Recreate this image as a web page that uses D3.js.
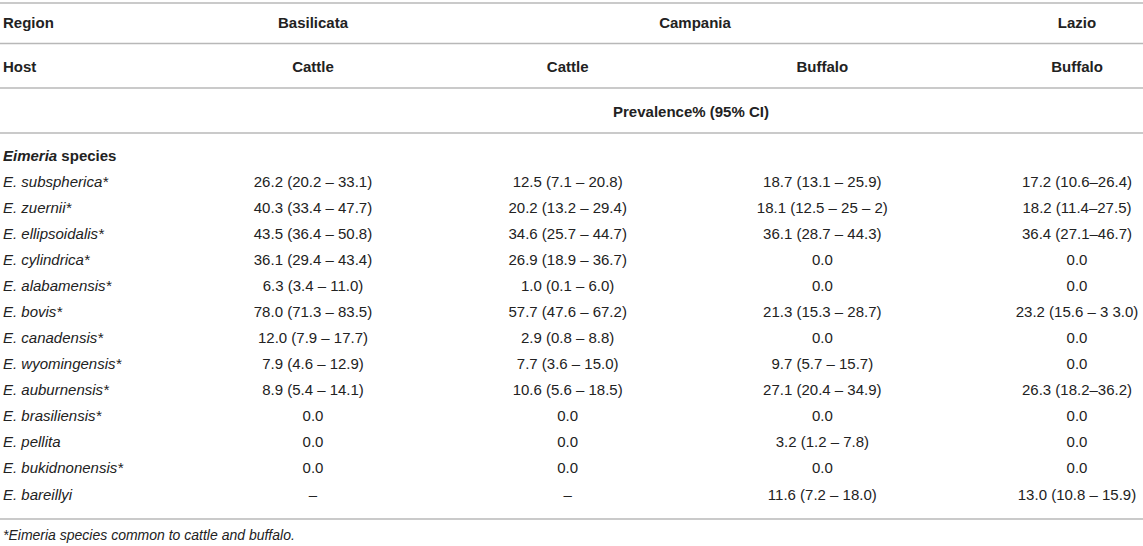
<!DOCTYPE html>
<html>
<head>
<meta charset="utf-8">
<script src="https://cdn.jsdelivr.net/npm/d3@7"></script>
<style>
  body { margin: 0; background: #fff; }
  svg text { font-family: "Liberation Sans", Arial, Helvetica, sans-serif; fill: #222; }
</style>
</head>
<body>
<div id="table"></div>
<script>
// Table contents
const regions = ['Basilicata', 'Campania', 'Lazio'];
const regionSpans = [[0, 0], [1, 2], [3, 3]];   // which data columns each region covers
const hosts = ['Cattle', 'Cattle', 'Buffalo', 'Buffalo'];
const species = [
  'E. subspherica*',
  'E. zuernii*',
  'E. ellipsoidalis*',
  'E. cylindrica*',
  'E. alabamensis*',
  'E. bovis*',
  'E. canadensis*',
  'E. wyomingensis*',
  'E. auburnensis*',
  'E. brasiliensis*',
  'E. pellita',
  'E. bukidnonensis*',
  'E. bareillyi'
];

// Prevalence% (95% CI) per column
const basilicataCattle = [
  '26.2 (20.2 – 33.1)', '40.3 (33.4 – 47.7)', '43.5 (36.4 – 50.8)', '36.1 (29.4 – 43.4)',
  '6.3 (3.4 – 11.0)', '78.0 (71.3 – 83.5)', '12.0 (7.9 – 17.7)', '7.9 (4.6 – 12.9)',
  '8.9 (5.4 – 14.1)', '0.0', '0.0', '0.0', '–'
];
const campaniaCattle = [
  '12.5 (7.1 – 20.8)', '20.2 (13.2 – 29.4)', '34.6 (25.7 – 44.7)', '26.9 (18.9 – 36.7)',
  '1.0 (0.1 – 6.0)', '57.7 (47.6 – 67.2)', '2.9 (0.8 – 8.8)', '7.7 (3.6 – 15.0)',
  '10.6 (5.6 – 18.5)', '0.0', '0.0', '0.0', '–'
];
const campaniaBuffalo = [
  '18.7 (13.1 – 25.9)', '18.1 (12.5 – 25 – 2)', '36.1 (28.7 – 44.3)', '0.0',
  '0.0', '21.3 (15.3 – 28.7)', '0.0', '9.7 (5.7 – 15.7)',
  '27.1 (20.4 – 34.9)', '0.0', '3.2 (1.2 – 7.8)', '0.0', '11.6 (7.2 – 18.0)'
];
const lazioBuffalo = [
  '17.2 (10.6–26.4)', '18.2 (11.4–27.5)', '36.4 (27.1–46.7)', '0.0',
  '0.0', '23.2 (15.6 – 3 3.0)', '0.0', '0.0',
  '26.3 (18.2–36.2)', '0.0', '0.0', '0.0', '13.0 (10.8 – 15.9)'
];
const columns = [basilicataCattle, campaniaCattle, campaniaBuffalo, lazioBuffalo];

const footnote = '*Eimeria species common to cattle and buffalo.';

// Drawing
const width = 1143, height = 546;
const fontSize = 15;

const svg = d3.select('#table').append('svg')
  .attr('width', width)
  .attr('height', height);

svg.append('rect').attr('width', width).attr('height', height).attr('fill', '#fff');

// column centres and data row positions
const x = d3.scalePoint()
  .domain(d3.range(columns.length))
  .range([313, 1077]);

const y = d3.scalePoint()
  .domain(d3.range(species.length))
  .range([181, 494]);

// header rows
const headerY = { region: 22, host: 66, prevalence: 111, group: 155 };

// horizontal rules
const rules = [3, 43.5, 88, 133, 519];
svg.selectAll('.rule')
  .data(rules)
  .enter().append('line')
  .attr('class', 'rule')
  .attr('x1', 0)
  .attr('x2', width)
  .attr('y1', d => d)
  .attr('y2', d => d)
  .attr('stroke', '#b8b8b8')
  .attr('stroke-width', 1.6);

// left header labels
svg.append('text')
  .attr('x', 3).attr('y', headerY.region)
  .attr('dominant-baseline', 'central')
  .attr('font-size', fontSize).attr('font-weight', 'bold')
  .text('Region');
svg.append('text')
  .attr('x', 3).attr('y', headerY.host)
  .attr('dominant-baseline', 'central')
  .attr('font-size', fontSize).attr('font-weight', 'bold')
  .text('Host');

// region headers, centred over the columns they span
svg.selectAll('.region')
  .data(regions)
  .enter().append('text')
  .attr('class', 'region')
  .attr('x', (d, i) => (x(regionSpans[i][0]) + x(regionSpans[i][1])) / 2)
  .attr('y', headerY.region)
  .attr('text-anchor', 'middle')
  .attr('dominant-baseline', 'central')
  .attr('font-size', fontSize).attr('font-weight', 'bold')
  .text(d => d);

// host headers
svg.selectAll('.host')
  .data(hosts)
  .enter().append('text')
  .attr('class', 'host')
  .attr('x', (d, i) => x(i))
  .attr('y', headerY.host)
  .attr('text-anchor', 'middle')
  .attr('dominant-baseline', 'central')
  .attr('font-size', fontSize).attr('font-weight', 'bold')
  .text(d => d);

// prevalence header
svg.append('text')
  .attr('x', (x(1) + x(2)) / 2 - 4)
  .attr('y', headerY.prevalence)
  .attr('text-anchor', 'middle')
  .attr('dominant-baseline', 'central')
  .attr('font-size', fontSize).attr('font-weight', 'bold')
  .text('Prevalence% (95% CI)');

// group label
const group = svg.append('text')
  .attr('x', 3).attr('y', headerY.group)
  .attr('dominant-baseline', 'central')
  .attr('font-size', fontSize).attr('font-weight', 'bold');
group.append('tspan').attr('font-style', 'italic').text('Eimeria');
group.append('tspan').text(' species');

// species names
svg.selectAll('.species')
  .data(species)
  .enter().append('text')
  .attr('class', 'species')
  .attr('x', 3)
  .attr('y', (d, i) => y(i))
  .attr('dominant-baseline', 'central')
  .attr('font-size', fontSize)
  .attr('font-style', 'italic')
  .text(d => d);

// value cells
columns.forEach((col, ci) => {
  svg.selectAll('.cell-' + ci)
    .data(col)
    .enter().append('text')
    .attr('class', 'cell-' + ci)
    .attr('x', x(ci))
    .attr('y', (d, i) => y(i))
    .attr('text-anchor', 'middle')
    .attr('dominant-baseline', 'central')
    .attr('font-size', fontSize)
    .text(d => d);
});

// footnote
svg.append('text')
  .attr('x', 3).attr('y', 535)
  .attr('dominant-baseline', 'central')
  .attr('font-size', 14)
  .attr('font-style', 'italic')
  .text(footnote);
</script>
</body>
</html>
